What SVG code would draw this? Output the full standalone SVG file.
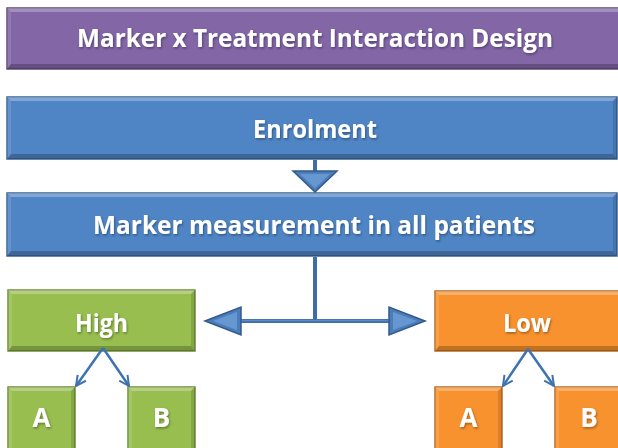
<svg xmlns="http://www.w3.org/2000/svg" width="618" height="448" viewBox="0 0 618 448">
<defs>
<style>
.t{font-family:"Open Sans","Noto Sans","DejaVu Sans",sans-serif;font-weight:bold;fill:#ffffff;text-anchor:middle;filter:url(#ts)}
.hl{fill:#ffffff;fill-opacity:0.28}
.sd{fill:#000000;fill-opacity:0.22}
.sl{fill:#ffffff;fill-opacity:0.12}
.sr{fill:#000000;fill-opacity:0.12}
.purple{fill:#8266A6;stroke:#5C4A78;stroke-width:1.5}
.blue{fill:#4F85C5;stroke:#3A6190;stroke-width:1.5}
.green{fill:#97BE4F;stroke:#6E8C38;stroke-width:1.5}
.orange{fill:#F7922E;stroke:#B96A22;stroke-width:1.5}
.conn{stroke:#3F6DA6;stroke-width:4;fill:none}
.connIn{stroke:#5A8ACA;stroke-width:1.5;fill:none}
.head{fill:#4A7DBA;stroke:#34598A;stroke-width:1.5;stroke-linejoin:miter}
.hin{fill:#6A9AD4;fill-opacity:0.9}
.thin{stroke:#3F72B0;stroke-width:2.5;fill:none;marker-end:url(#open)}
</style>
<filter id="ts" x="-10%" y="-30%" width="120%" height="160%">
<feDropShadow dx="1" dy="1.5" stdDeviation="1" flood-color="#000000" flood-opacity="0.35"/>
</filter>
<marker id="open" viewBox="0 0 10 10" refX="9" refY="5" markerWidth="5" markerHeight="5" orient="auto" markerUnits="strokeWidth">
<path d="M1,1 L9,5 L1,9" fill="none" stroke="#3F72B0" stroke-width="1.6"/>
</marker>
</defs>

<g id="title">
<rect class="purple" x="7" y="8" width="616" height="61"/>
<polygon class="hl" points="7,8 623,8 619,12 11,12"/>
<polygon class="sd" points="7,69 623,69 619,64 11,64"/>
<polygon class="sl" points="7,8 11,12 11,64 7,69"/>
<text class="t" x="315" y="47" font-size="25" textLength="476" lengthAdjust="spacingAndGlyphs">Marker x Treatment Interaction Design</text>
</g>

<g id="enrolment">
<rect class="blue" x="7" y="97" width="610" height="62"/>
<polygon class="hl" points="7,97 617,97 613,101 11,101"/>
<polygon class="sd" points="7,159 617,159 613,154 11,154"/>
<polygon class="sl" points="7,97 11,101 11,154 7,159"/>
<polygon class="sr" points="617,97 613,101 613,154 617,159"/>
<text class="t" x="315" y="137.5" font-size="24.5" textLength="124" lengthAdjust="spacingAndGlyphs">Enrolment</text>
</g>

<g id="marker">
<rect class="blue" x="7" y="193" width="610" height="63"/>
<polygon class="hl" points="7,193 617,193 613,197 11,197"/>
<polygon class="sd" points="7,256 617,256 613,251 11,251"/>
<polygon class="sl" points="7,193 11,197 11,251 7,256"/>
<polygon class="sr" points="617,193 613,197 613,251 617,256"/>
<text class="t" x="314" y="234" font-size="25" textLength="442" lengthAdjust="spacingAndGlyphs">Marker measurement in all patients</text>
</g>

<g id="high">
<rect class="green" x="8" y="290" width="187" height="61"/>
<polygon class="hl" points="8,290 195,290 191,294 12,294"/>
<polygon class="sd" points="8,351 195,351 191,346 12,346"/>
<polygon class="sl" points="8,290 12,294 12,346 8,351"/>
<polygon class="sr" points="195,290 191,294 191,346 195,351"/>
<text class="t" x="101.5" y="331.5" font-size="25.5" textLength="53" lengthAdjust="spacingAndGlyphs">High</text>
</g>

<g id="low">
<rect class="orange" x="435" y="291" width="190" height="60"/>
<polygon class="hl" points="435,291 625,291 621,295 439,295"/>
<polygon class="sd" points="435,351 625,351 621,346 439,346"/>
<polygon class="sl" points="435,291 439,295 439,346 435,351"/>
<text class="t" x="527" y="331.5" font-size="25.5" textLength="48" lengthAdjust="spacingAndGlyphs">Low</text>
</g>

<g id="high-a">
<rect class="green" x="8" y="387" width="67" height="70"/>
<polygon class="hl" points="8,387 75,387 71,391 12,391"/>
<polygon class="sl" points="8,387 12,391 12,457 8,457"/>
<polygon class="sr" points="75,387 71,391 71,457 75,457"/>
<text class="t" x="41.5" y="426.5" font-size="26">A</text>
</g>

<g id="high-b">
<rect class="green" x="128" y="387" width="67" height="70"/>
<polygon class="hl" points="128,387 195,387 191,391 132,391"/>
<polygon class="sl" points="128,387 132,391 132,457 128,457"/>
<polygon class="sr" points="195,387 191,391 191,457 195,457"/>
<text class="t" x="161.5" y="426.5" font-size="26">B</text>
</g>

<g id="low-a">
<rect class="orange" x="435" y="387" width="67" height="70"/>
<polygon class="hl" points="435,387 502,387 498,391 439,391"/>
<polygon class="sl" points="435,387 439,391 439,457 435,457"/>
<polygon class="sr" points="502,387 498,391 498,457 502,457"/>
<text class="t" x="468.5" y="426.5" font-size="26">A</text>
</g>

<g id="low-b">
<rect class="orange" x="555" y="387" width="70" height="70"/>
<polygon class="hl" points="555,387 625,387 621,391 559,391"/>
<polygon class="sl" points="555,387 559,391 559,457 555,457"/>
<text class="t" x="589" y="426.5" font-size="26">B</text>
</g>

<g id="connectors">
<line class="conn" x1="315" y1="160" x2="315" y2="172"/>
<polygon class="head" points="293,171 337,171 315,192"/>
<polygon class="hin" points="300,174 330,174 315,188"/>
<line class="conn" x1="315" y1="257" x2="315" y2="321"/>
<line class="conn" x1="238" y1="321" x2="392" y2="321"/>
<line class="connIn" x1="240" y1="320.5" x2="390" y2="320.5"/>
<polygon class="head" points="205,321 241,307 241,335"/>
<polygon class="hin" points="213,321 237,312 237,330"/>
<polygon class="head" points="425,321 389,307 389,335"/>
<polygon class="hin" points="417,321 393,312 393,330"/>
<line class="thin" x1="103" y1="348" x2="76" y2="386"/>
<line class="thin" x1="103" y1="348" x2="129" y2="386"/>
<line class="thin" x1="528" y1="349" x2="503" y2="386"/>
<line class="thin" x1="528" y1="349" x2="554" y2="386"/>
</g>
</svg>
